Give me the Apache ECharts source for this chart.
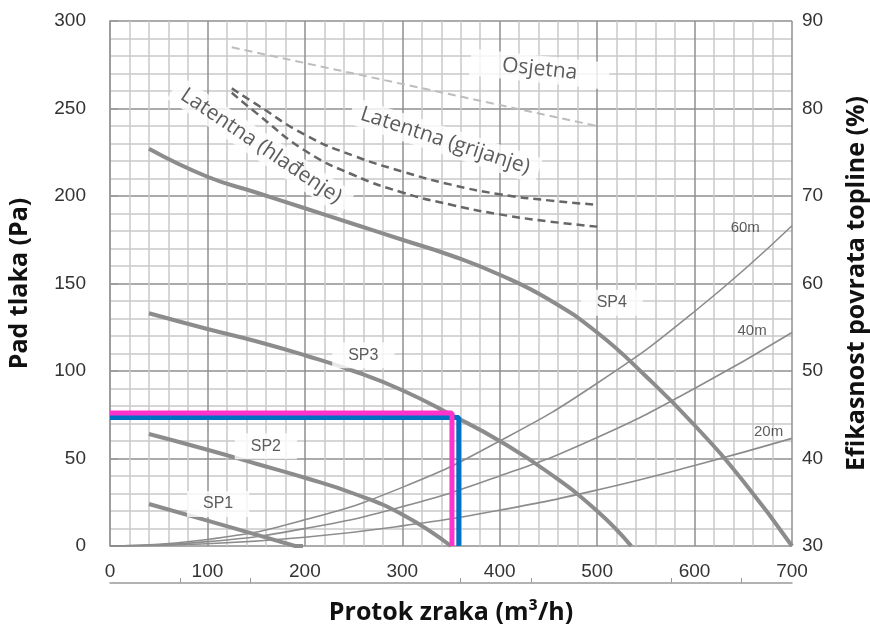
<!DOCTYPE html>
<html>
<head>
<meta charset="utf-8">
<script src="https://cdn.jsdelivr.net/npm/echarts@6/dist/echarts.min.js"></script>
<style>
    html, body { margin: 0; padding: 0; background: #fff; }
    #chart { width: 870px; height: 626px; }
</style>
</head>
<body>
<div id="chart"></div>
<script>
// krivulje ventilatora (Pa)
const sp1 = [[40, 24], [100, 14.5], [150, 6.5], [190, 0], [198, 0]];
const sp2 = [[40, 64], [100, 55], [150, 47], [200, 39], [250, 30], [300, 18], [350, 0]];
const sp3 = [[40, 133], [100, 124], [150, 117], [200, 109], [250, 100], [300, 89], [350, 75], [400, 60], [450, 42], [500, 20], [535, 0]];
const sp4 = [[40, 227], [100, 211], [150, 202], [200, 193], [250, 184], [300, 175], [350, 166], [400, 155], [450, 141], [500, 122], [550, 97], [600, 69], [650, 37], [700, 0]];
// karakteristike sustava (Pa)
const duct20 = [[0, 0], [100, 1.3], [200, 5], [300, 11.5], [400, 20.5], [500, 32], [600, 46], [700, 61.5]];
const duct40 = [[0, 0], [100, 2.5], [200, 10], [300, 22.5], [400, 40], [500, 62], [600, 90], [700, 122]];
const duct60 = [[0, 0], [100, 3.7], [200, 15], [300, 33.5], [400, 60], [500, 93], [600, 134], [700, 183]];
// efikasnost (%)
const osjetna = [[125, 87], [500, 78]];
const latGrijanje = [[125, 82.3], [150, 80.5], [200, 77.0], [250, 74.6], [300, 72.8], [350, 71.3], [400, 70.2], [450, 69.5], [500, 69.0]];
const latHladenje = [[125, 81.8], [150, 79.5], [200, 75.2], [250, 72.4], [300, 70.4], [350, 69.0], [400, 67.9], [450, 67.1], [500, 66.5]];
// radna tocka
const pinkLine = [[0, 76], [351, 76], [351, 0]];
const blueLine = [[0, 73.5], [358, 73.5], [358, 0]];
// natpisi
const curveNames = ['SP1', 'SP2', 'SP3', 'SP4'];
const curveNameAt = [[111, 24], [160, 57], [260, 109], [515, 139]];
const ductNames = ['60m', '40m', '20m'];
const ductNameAt = [[652, 182], [659, 123], [676, 65]];
const effNames = ['Osjetna', 'Latentna (grijanje)', 'Latentna (hlađenje)'];
const effNameAt = [[441, 84.5], [344, 76.3], [155, 75.7]];
const effNameRot = [-6, -18, -34];
const bottomTicks = [72, 144, 360, 432, 576, 648];

const chart = echarts.init(document.getElementById('chart'));

const gray = '#8c8c8c';
const tickFont = { color: '#333', fontSize: 19, fontFamily: 'Liberation Sans, Arial, sans-serif' };
const nameFont = { color: '#111', fontSize: 25, fontWeight: 'bold', fontFamily: 'Open Sans, sans-serif' };

const lineSeries = (data, width, color, extra) => Object.assign({
    type: 'line',
    data: data,
    smooth: true,
    symbol: 'none',
    silent: true,
    lineStyle: { color: color, width: width }
}, extra || {});

const option = {
    animation: false,
    backgroundColor: '#fff',
    grid: { left: 110, right: 78, top: 21, bottom: 80, outerBoundsMode: 'none', containLabel: false },
    xAxis: [{
        type: 'value',
        min: 0,
        max: 700,
        interval: 100,
        name: 'Protok zraka (m³/h)',
        nameLocation: 'middle',
        nameGap: 54,
        nameTextStyle: nameFont,
        axisLine: { show: false },
        axisTick: { show: false },
        axisLabel: Object.assign({ margin: 16 }, tickFont),
        splitLine: { show: true, lineStyle: { color: '#8f8f8f', width: 1.5 } },
        minorTick: { show: false, splitNumber: 5 },
        minorSplitLine: { show: true, lineStyle: { color: '#c9c9c9', width: 1.5 } }
    }, {
        type: 'value',
        min: 0,
        max: 700,
        position: 'bottom',
        offset: 37,
        axisLine: { show: true, lineStyle: { color: '#999', width: 1.5 } },
        axisTick: { show: true, inside: true, length: 5, customValues: bottomTicks, lineStyle: { color: '#999' } },
        axisLabel: { show: false },
        splitLine: { show: false }
    }],
    yAxis: [{
        type: 'value',
        min: 0,
        max: 300,
        interval: 50,
        name: 'Pad tlaka (Pa)',
        nameLocation: 'middle',
        nameGap: 78,
        nameTextStyle: nameFont,
        axisLine: { show: true, lineStyle: { color: '#aaa', width: 1.5 } },
        axisTick: { show: false },
        axisLabel: Object.assign({ margin: 24 }, tickFont),
        splitLine: { show: true, lineStyle: { color: '#8f8f8f', width: 1.5 } },
        minorTick: { show: false, splitNumber: 5 },
        minorSplitLine: { show: true, lineStyle: { color: '#c9c9c9', width: 1.5 } }
    }, {
        type: 'value',
        min: 30,
        max: 90,
        interval: 10,
        position: 'right',
        name: 'Efikasnost povrata topline (%)',
        nameLocation: 'middle',
        nameGap: 52,
        nameTextStyle: nameFont,
        axisLine: { show: true, lineStyle: { color: '#999', width: 1.5 } },
        axisTick: { show: true, length: 8, lineStyle: { color: '#999', width: 1.5 } },
        axisLabel: Object.assign({ margin: 10 }, tickFont),
        splitLine: { show: false }
    }],
    series: [
        lineSeries(duct20, 1.6, gray),
        lineSeries(duct40, 1.6, gray),
        lineSeries(duct60, 1.6, gray),
        lineSeries(osjetna, 2, '#bdbdbd', { yAxisIndex: 1, smooth: false, lineStyle: { color: '#bdbdbd', width: 2, type: [8, 5] } }),
        lineSeries(latGrijanje, 2.5, '#666', { yAxisIndex: 1, lineStyle: { color: '#666', width: 2.5, type: [8, 5] } }),
        lineSeries(latHladenje, 2.5, '#666', { yAxisIndex: 1, lineStyle: { color: '#666', width: 2.5, type: [8, 5] } }),
        lineSeries(sp1, 4, gray, { smooth: false }),
        lineSeries(sp2, 4, gray),
        lineSeries(sp3, 4, gray),
        lineSeries(sp4, 4, gray),
        lineSeries(blueLine, 5, '#0070c0', { smooth: false }),
        lineSeries(pinkLine, 5, '#ff33cc', { smooth: false }),
        {
            // SP natpisi
            type: 'scatter',
            symbolSize: 0,
            silent: true,
            z: 5,
            data: curveNames.map((n, i) => ({ name: n, value: curveNameAt[i] })),
            label: {
                show: true,
                position: 'inside',
                formatter: '{b}',
                color: '#333',
                fontSize: 16,
                fontFamily: 'Liberation Sans, Arial, sans-serif',
                backgroundColor: '#fff',
                padding: [5, 16]
            }
        },
        {
            type: 'scatter',
            symbolSize: 0,
            silent: true,
            z: 5,
            data: ductNames.map((n, i) => ({ name: n, value: ductNameAt[i] })),
            label: {
                show: true,
                position: 'inside',
                formatter: '{b}',
                color: '#333',
                fontSize: 15,
                fontFamily: 'Liberation Sans, Arial, sans-serif'
            }
        },
        {
            type: 'scatter',
            yAxisIndex: 1,
            symbolSize: 0,
            silent: true,
            z: 5,
            data: effNames.map((n, i) => ({
                name: n,
                value: effNameAt[i],
                label: { rotate: effNameRot[i], padding: i === 0 ? [3, 32] : [3, 10] }
            })),
            label: {
                show: true,
                position: 'inside',
                formatter: '{b}',
                color: '#333',
                fontSize: 21,
                fontFamily: 'Open Sans, sans-serif',
                backgroundColor: '#fff'
            }
        }
    ]
};

chart.setOption(option);
</script>
</body>
</html>
